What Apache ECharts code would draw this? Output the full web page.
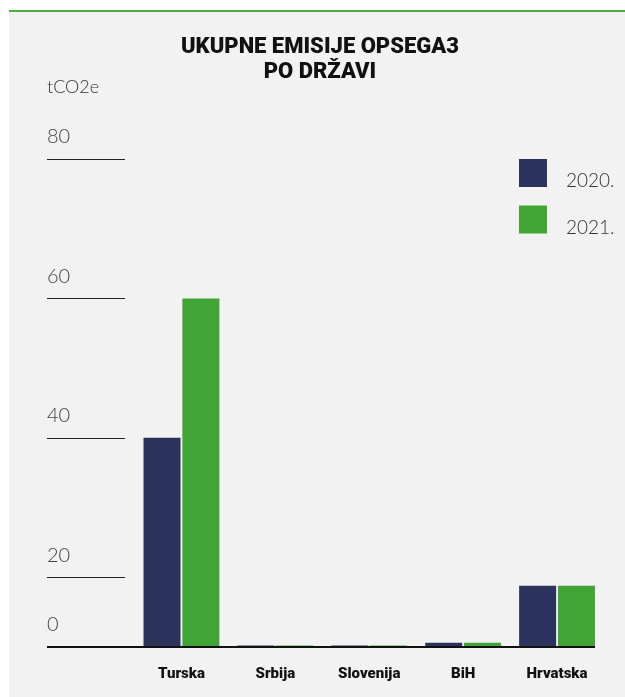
<!DOCTYPE html>
<html>
<head>
<meta charset="utf-8">
<script src="https://cdn.jsdelivr.net/npm/echarts@6/dist/echarts.min.js"></script>
<style>
  html, body { margin: 0; padding: 0; background: #fff; }
  #chart { width: 625px; height: 697px; }
</style>
</head>
<body>
<div id="chart"></div>
<script>
// emisije po državi, tCO2e (očitano s grafa)
const countries = ['Turska', 'Srbija', 'Slovenija', 'BiH', 'Hrvatska'];
const years = ['2020.', '2021.'];
const values2020 = [40, 10.2, 10.2, 10.6, 18.8];
const values2021 = [60, 10.2, 10.2, 10.6, 18.8];
const tickValues = [10, 20, 40, 60, 80];
const tickLabels = ['0', '20', '40', '60', '80'];

const navy = '#2b335c';
const green = '#41a535';
const lightFont = { fontFamily: 'Lato', fontWeight: 300 };

const chart = echarts.init(document.getElementById('chart'));

const option = {
  backgroundColor: '#f2f2f2',
  animation: false,
  title: [
    {
      text: 'tCO2e',
      left: 47,
      top: 78,
      padding: 0,
      textStyle: { ...lightFont, fontSize: 18, color: '#333' },
    },
  ],
  legend: {
    orient: 'vertical',
    left: 514,
    top: 154,
    icon: 'rect',
    itemWidth: 28,
    itemHeight: 28,
    itemGap: 15,
    selectedMode: false,
    data: years,
    formatter: name => '{t|' + name + '}',
    textStyle: {
      rich: {
        t: {
          ...lightFont,
          fontSize: 19,
          color: '#333',
          lineHeight: 35,
          verticalAlign: 'bottom',
          padding: [0, 0, 0, 14],
        },
      },
    },
  },
  grid: { left: 134.5, right: 21, top: 159, bottom: 50 },
  xAxis: {
    type: 'category',
    data: countries,
    axisLine: { show: false },
    axisTick: { show: false },
    axisLabel: {
      margin: 20,
      fontFamily: 'Roboto',
      fontWeight: 900,
      fontSize: 15,
      color: '#111',
    },
  },
  yAxis: {
    type: 'value',
    min: 10,
    max: 80,
    offset: 9.5,
    axisLine: { show: false },
    splitLine: { show: false },
    axisTick: {
      show: true,
      length: 78,
      customValues: tickValues.slice(1),
      lineStyle: { color: '#222', width: 1 },
    },
    axisLabel: {
      customValues: tickValues,
      formatter: v => tickLabels[tickValues.indexOf(v)],
      align: 'left',
      verticalAlign: 'bottom',
      margin: 78,
      padding: [0, 0, 12, 0],
      ...lightFont,
      fontSize: 20,
      color: '#444',
    },
  },
  series: [
    {
      name: years[0],
      type: 'bar',
      barWidth: 37,
      barGap: '5%',
      itemStyle: { color: navy },
      data: values2020,
    },
    {
      name: years[1],
      type: 'bar',
      barWidth: 37,
      barGap: '5%',
      itemStyle: { color: green },
      data: values2021,
    },
  ],
};

chart.setOption(option);

// okvir, naslov i osnovna linija
const baseY = chart.convertToPixel({ yAxisIndex: 0 }, 10);
chart.setOption({
  graphic: [
    { type: 'rect', silent: true, z: 100, shape: { x: 0, y: 0, width: 625, height: 10 }, style: { fill: '#fff' } },
    { type: 'rect', silent: true, z: 100, shape: { x: 0, y: 0, width: 9, height: 697 }, style: { fill: '#fff' } },
    { type: 'rect', silent: true, z: 100, shape: { x: 9, y: 10, width: 616, height: 2 }, style: { fill: '#4aae3b' } },
    { type: 'line', silent: true, z: 100, shape: { x1: 47, y1: baseY, x2: 595, y2: baseY }, style: { stroke: '#111', lineWidth: 2 } },
    {
      type: 'text',
      silent: true,
      x: 320,
      y: 35,
      style: {
        text: 'UKUPNE EMISIJE OPSEGA3\nPO DRŽAVI',
        align: 'center',
        fontFamily: 'Roboto',
        fontWeight: 900,
        fontSize: 22,
        lineHeight: 25,
        fill: '#111',
      },
    },
  ],
});
</script>
</body>
</html>
